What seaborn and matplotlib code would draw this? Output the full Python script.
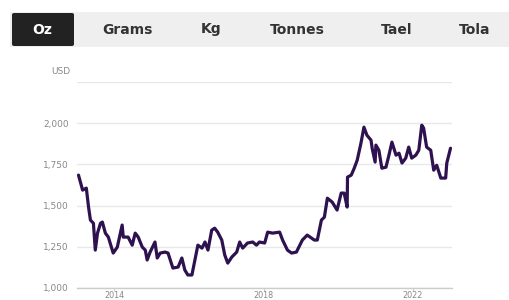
import matplotlib
matplotlib.use("Agg")
import matplotlib.pyplot as plt
import matplotlib.patches as mpatches
import seaborn as sns
import pandas as pd

# ---- data ----
tabs = ["Oz", "Grams", "Kg", "Tonnes", "Tael", "Tola"]
years = [2013.04, 2013.15, 2013.25, 2013.31, 2013.36, 2013.44, 2013.49, 2013.55, 2013.63, 2013.68,
         2013.76, 2013.84, 2013.97, 2014.08, 2014.21, 2014.24, 2014.37, 2014.48, 2014.56, 2014.64,
         2014.75, 2014.83, 2014.88, 2014.96, 2015.09, 2015.15, 2015.23, 2015.36, 2015.44, 2015.57,
         2015.71, 2015.81, 2015.89, 2015.97, 2016.08, 2016.16, 2016.24, 2016.35, 2016.43, 2016.51,
         2016.61, 2016.69, 2016.77, 2016.88, 2016.96, 2017.04, 2017.15, 2017.28, 2017.36, 2017.44,
         2017.57, 2017.71, 2017.81, 2017.89, 2018.03, 2018.11, 2018.24, 2018.43, 2018.51, 2018.64,
         2018.75, 2018.88, 2019.04, 2019.17, 2019.36, 2019.44, 2019.55, 2019.63, 2019.71, 2019.84,
         2019.97, 2020.08, 2020.16, 2020.24, 2020.25, 2020.35, 2020.43, 2020.51, 2020.61, 2020.69,
         2020.77, 2020.88, 2020.91, 2020.99, 2021.01, 2021.09, 2021.17, 2021.28, 2021.36, 2021.44,
         2021.55, 2021.63, 2021.71, 2021.81, 2021.89, 2021.97, 2022.08, 2022.16, 2022.24, 2022.29,
         2022.37, 2022.48, 2022.56, 2022.64, 2022.75, 2022.88, 2022.91, 2023.01]
prices = [1685, 1594, 1606, 1490, 1412, 1393, 1230, 1333, 1393, 1400,
          1333, 1309, 1212, 1248, 1382, 1309, 1309, 1260, 1333, 1309,
          1248, 1230, 1170, 1218, 1279, 1182, 1212, 1218, 1212, 1121,
          1127, 1182, 1109, 1079, 1079, 1170, 1260, 1242, 1279, 1230,
          1351, 1363, 1339, 1291, 1200, 1151, 1188, 1218, 1279, 1242,
          1273, 1279, 1260, 1279, 1273, 1339, 1333, 1339, 1291, 1230,
          1212, 1218, 1291, 1321, 1291, 1291, 1412, 1430, 1545, 1521,
          1473, 1576, 1576, 1491, 1673, 1685, 1727, 1776, 1879, 1976,
          1927, 1897, 1848, 1764, 1867, 1836, 1727, 1733, 1806, 1885,
          1806, 1818, 1758, 1788, 1855, 1788, 1806, 1836, 1988, 1970,
          1855, 1836, 1715, 1745, 1667, 1667, 1758, 1848]
x_ticks = [2014, 2018, 2022]
x_labels = ["2014", "2018", "2022"]
y_ticks = [1000, 1250, 1500, 1750, 2000, 2250]
y_labels = ["1,000", "1,250", "1,500", "1,750", "2,000", ""]

df = pd.DataFrame({"year": years, "price": prices})

sns.set_theme(style="white")
plt.rcParams["font.family"] = ["DejaVu Sans"]

W, H = 509, 300
fig = plt.figure(figsize=(W / 100, H / 100), dpi=100)
fig.patch.set_facecolor("white")

def fx(px):
    return px / W

def fy(py):
    return 1 - py / H

# tab bar
fig.patches.append(mpatches.Rectangle((fx(10), fy(47)), fx(509) - fx(10), fy(12) - fy(47),
                                      transform=fig.transFigure, facecolor="#efefef",
                                      edgecolor="none", zorder=0))
fig.patches.append(mpatches.FancyBboxPatch((fx(12), fy(46)), fx(62), fy(13) - fy(46),
                                           boxstyle="round,pad=0,rounding_size=0.005",
                                           transform=fig.transFigure, facecolor="#222222",
                                           edgecolor="none", zorder=1))
tab_x = [42, 127, 211, 297, 397, 475]
for t, px in zip(tabs, tab_x):
    fig.text(fx(px), fy(29.5), t, ha="center", va="center", fontsize=10, fontweight="bold",
             color="white" if t == "Oz" else "#333333")

# chart
ax = fig.add_axes([fx(77), fy(288), fx(452) - fx(77), fy(82) - fy(288)])
sns.lineplot(data=df, x="year", y="price", ax=ax, color="#2e1250", linewidth=2.3)
ax.set_xlim(2013.0, 2023.05)
ax.set_ylim(1000, 2250)
ax.set_yticks(y_ticks)
ax.set_yticklabels(y_labels)
ax.set_xticks(x_ticks)
ax.set_xticklabels(x_labels)
ax.set_xlabel("")
ax.set_ylabel("")
ax.grid(axis="y", color="#e8e8e8", linewidth=1)
ax.grid(axis="x", visible=False)
for s in ["top", "right", "left"]:
    ax.spines[s].set_visible(False)
ax.spines["bottom"].set_color("#cccccc")
ax.spines["bottom"].set_linewidth(1)
ax.tick_params(axis="y", length=0, pad=6, labelsize=6.5, labelcolor="#888888")
ax.tick_params(axis="x", length=2.5, width=0.8, color="#cccccc", pad=0,
               labelsize=5.8, labelcolor="#888888", bottom=True)
ax.set_axisbelow(True)

fig.text(fx(70), fy(72), "USD", ha="right", va="center", fontsize=6.5, color="#888888")

fig.savefig("out.png", dpi=100)
